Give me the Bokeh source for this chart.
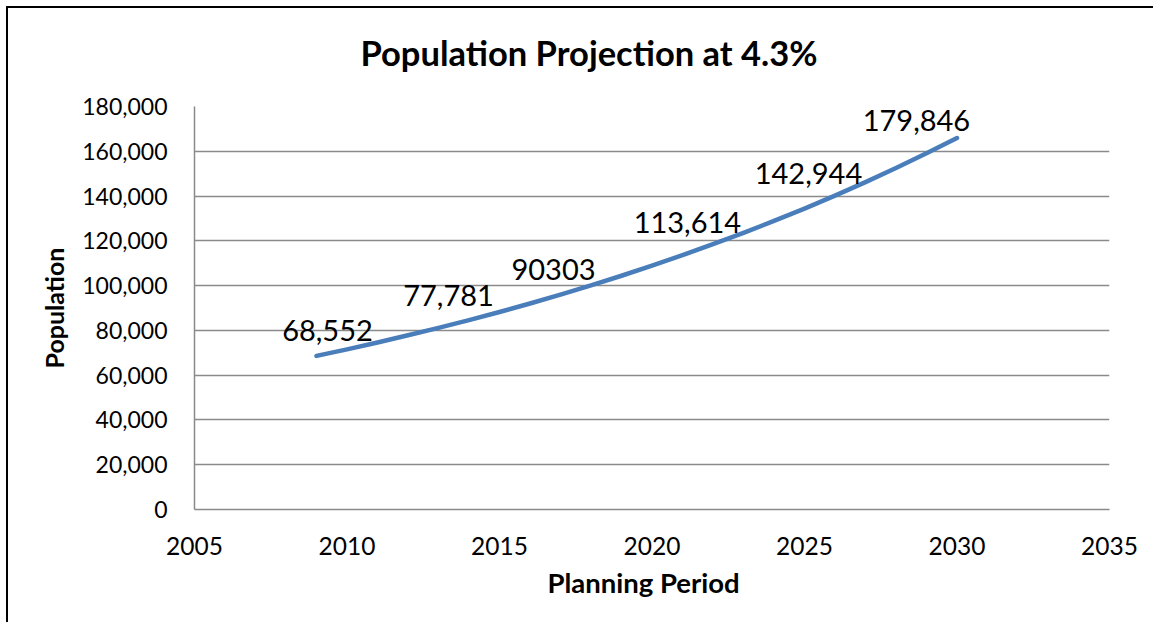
from bokeh.plotting import figure
from bokeh.models import FixedTicker, NumeralTickFormatter, BasicTickFormatter, Range1d, Label, Title
from bokeh.embed import file_html
from bokeh.resources import INLINE

# ---- data ----
years = [2009, 2010, 2011, 2012, 2013, 2014, 2015, 2016, 2017, 2018, 2019,
         2020, 2021, 2022, 2023, 2024, 2025, 2026, 2027, 2028, 2029, 2030]
population = [68600, 71500, 74600, 77800, 81100, 84600, 88200, 92000, 96000, 100100, 104400,
              108900, 113600, 118500, 123600, 128900, 134400, 140200, 146200, 152500, 159100, 165900]

label_texts = ["68,552", "77,781", "90303", "113,614", "142,944", "179,846"]
label_x = [2009.36, 2013.33, 2016.77, 2021.16, 2025.13, 2028.67]
label_y = [79950, 95580, 107190, 128190, 150070, 173750]

x_ticks = [2005, 2010, 2015, 2020, 2025, 2030, 2035]
y_ticks = [0, 20000, 40000, 60000, 80000, 100000, 120000, 140000, 160000, 180000]

title_text = "Population Projection at 4.3%"
x_title = "Planning Period"
y_title = "Population"

FONT = "Lato"
GRID = "#8a8a8a"

p = figure(width=1147, height=616, output_backend="svg", toolbar_location=None,
           x_range=Range1d(2005, 2035), y_range=Range1d(0, 180000),
           min_border_left=186, min_border_right=46, min_border_top=98, min_border_bottom=115)
p.margin = (8, 0, 0, 8)
p.styles = {"box-shadow": "-2px -2px 0px 0px #000000", "background-color": "#ffffff"}
p.outline_line_color = None
p.background_fill_color = "white"
p.border_fill_color = "white"

# spacer panel between the frame and the title (pushes the title upward)
p.add_layout(Title(text=" ", text_font_size="1px", standoff=31, text_color="white"), "above")

p.title.text = title_text
p.title.align = "left"
p.title.offset = 166
p.title.standoff = 0
p.title.text_font = FONT
p.title.text_font_style = "bold"
p.title.text_font_size = "34.5px"
p.title.text_color = "#000000"

p.xaxis.ticker = FixedTicker(ticks=x_ticks)
p.yaxis.ticker = FixedTicker(ticks=y_ticks)
p.yaxis.formatter = NumeralTickFormatter(format="0,0")
p.xaxis.formatter = BasicTickFormatter(use_scientific=False)

for ax in (p.xaxis, p.yaxis):
    ax.axis_line_color = GRID
    ax.axis_line_width = 1.5
    ax.major_tick_line_color = None
    ax.minor_tick_line_color = None
    ax.major_label_text_font = FONT
    ax.major_label_text_color = "#000000"
    ax.axis_label_text_font = FONT
    ax.axis_label_text_font_style = "bold"
    ax.axis_label_text_font_size = "25px"
    ax.axis_label_text_color = "#000000"
p.xaxis.major_label_text_font_size = "24.5px"
p.yaxis.major_label_text_font_size = "23px"
p.xaxis.major_label_standoff = 21
p.yaxis.major_label_standoff = 21
p.yaxis.axis_label = y_title
p.yaxis.axis_label_standoff = 10

p.add_layout(Title(text=x_title, align="left", offset=353, standoff=13, text_font=FONT,
                   text_font_style="bold", text_font_size="27.5px", text_color="#000000"), "below")

p.xgrid.grid_line_color = None
p.ygrid.grid_line_color = GRID
p.ygrid.grid_line_width = 1.5

p.line(years, population, line_color="#4A7EBB", line_width=4.5, line_cap="round", line_join="round")

for t, lx, ly in zip(label_texts, label_x, label_y):
    p.add_layout(Label(x=lx, y=ly, text=t, text_align="center", text_baseline="middle",
                       text_font=FONT, text_font_size="29px", text_color="#000000"))

open("out.html", "w").write(file_html(p, INLINE))
